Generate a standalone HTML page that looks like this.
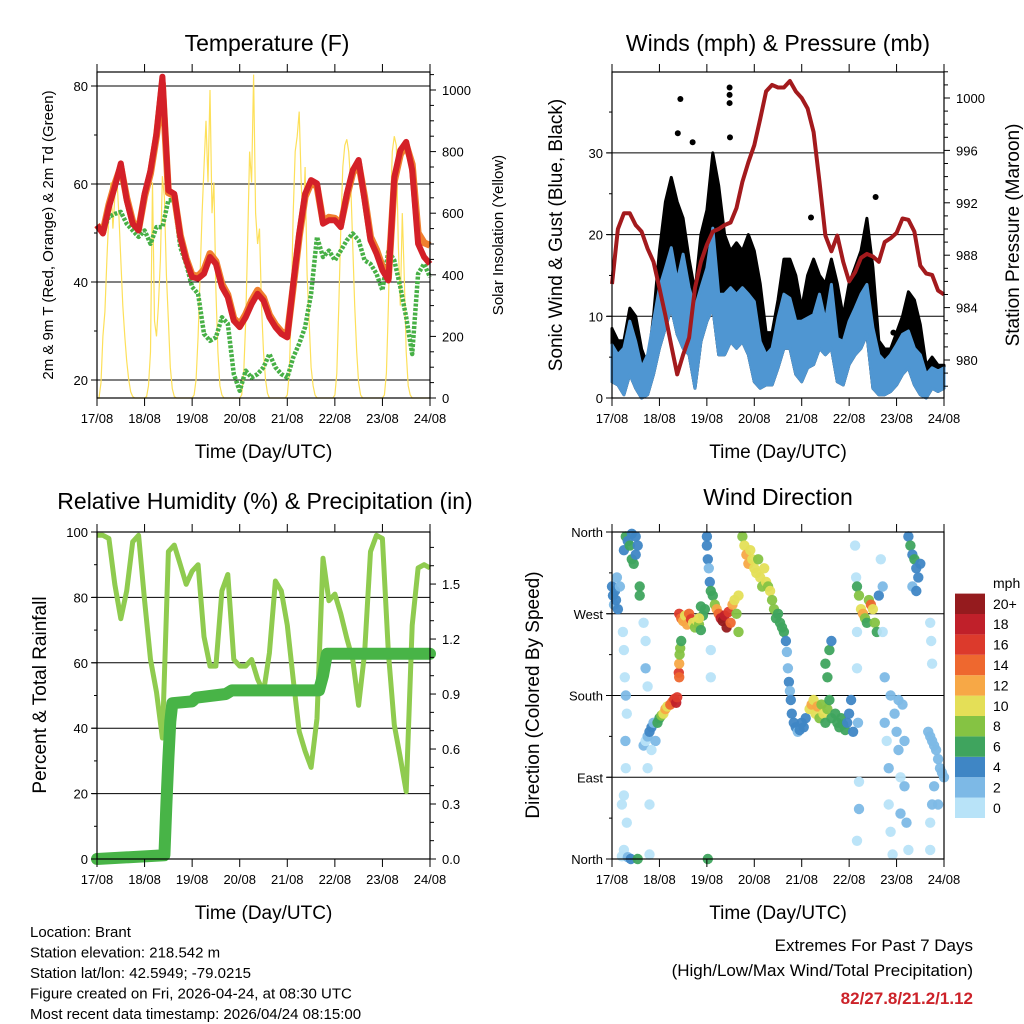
<!DOCTYPE html>
<html><head><meta charset="utf-8">
<style>
html,body{margin:0;padding:0;background:#fff;}
svg{display:block;font-family:"Liberation Sans",Arial,sans-serif;}
</style></head>
<body>
<svg id="chart" width="1024" height="1024" viewBox="0 0 1024 1024" xmlns="http://www.w3.org/2000/svg"></svg>
<script>
// ---------- DATA ----------
const dayLabels = ["17/08","18/08","19/08","20/08","21/08","22/08","23/08","24/08"];
// 3-hourly series (hours 0..168 step 3)
const tempRed = [51.6,49.9,55.3,59.4,64.2,56.7,51.9,50.5,58,62.8,70.3,81.9,58.7,58,49.2,44.4,41,40.7,41.7,45.1,43.7,39,36.9,32.1,30.8,32.8,35.5,37.6,36.2,32.8,30.8,29.4,28.7,39.6,49.9,58,60.8,60.1,51.9,52.6,52.6,51.2,58,62.8,64.9,56.7,48.5,45.8,42.4,40.3,61.4,66.9,68.6,62.8,47.8,45.1,43.7];
const tempOrange = [51.6,50.2,55.8,60,63.5,57.2,52.3,50.8,57.5,62.2,69.8,80.5,58.2,57.6,49.5,44.8,41.4,41.2,42.5,45.8,44.2,39.6,37.4,32.6,31.3,33.4,36.2,38.3,36.8,33.3,31.3,29.9,29.2,39,49.2,57.4,60.2,59.5,52.4,53.2,53,51.8,57.4,62.2,64.2,57.4,49.2,46.6,43.1,40.8,60.5,66,68,64,50,48,47.5];
const dewGreen = [51.6,50.2,53.3,53.9,54.3,51.9,50.5,49.2,50.5,47.8,51.2,51.2,56.7,56.7,47.1,43.7,39,37.6,29.4,28,28.7,32.8,31.5,21.2,17.8,21.9,20.5,21.2,22.6,25.3,22.6,21.2,20.5,24.6,27.4,30.8,37.6,49.2,45.1,46.4,44.4,46.4,48.5,49.9,48.5,44.4,43.7,41.7,38.3,46.4,44.4,39,32.8,25.3,41.7,43.7,41];
// hourly solar insolation (W/m2), hours 0..168
const solar = [0,0,50,200,280,450,600,700,550,650,720,600,450,300,200,120,60,20,5,0,0,0,0,0,
0,5,40,150,700,250,200,300,450,720,650,400,250,100,30,5,0,0,0,0,0,0,0,0,
0,10,60,200,400,600,750,900,700,1000,600,700,350,150,40,10,0,0,0,0,0,0,0,0,
0,10,80,250,500,800,700,1050,600,500,550,300,150,60,15,0,0,0,0,0,0,0,0,0,
10,80,300,600,800,850,930,700,550,750,400,250,100,40,10,0,0,0,0,0,0,0,0,0,
10,80,300,550,750,820,840,800,700,500,300,150,50,10,0,0,0,0,0,0,0,0,0,0,
0,10,80,300,600,800,850,820,500,300,600,400,150,40,10,0,0,0,0,0,0,0,0,0,0];
const pressure = [985.8,990,991.2,991.2,990.3,989.8,988.5,987.5,985.5,983.4,981.1,978.9,980.4,981.7,985.5,987.5,988.8,989.8,990,990.3,990.5,991.6,993.6,995.1,996.4,998.4,1000.5,1001,1000.8,1000.8,1001.3,1000.5,1000,999.2,997.4,993.6,989.5,988.3,989.5,987.5,986,986.7,987.8,988.1,987.9,987.5,989,989.3,989.7,990.8,990.7,989.8,987.2,986.6,986.5,985.3,985];
const windHi = [6.5,5.3,6.1,9.4,6.9,3.7,5.3,9.4,13.5,15.9,18.4,14.3,17.6,13.5,11,13.5,15.9,20.8,12.7,12.7,13.5,12.7,13.5,12.7,11.8,6.9,5.3,6.1,9.8,12.7,12.2,9.4,9.4,9.8,10.2,12.7,9.4,13.9,7.3,6.9,9.4,11,12.7,13.9,8.6,5.3,4.5,5.3,6.5,7.8,8.2,6.1,5.3,2.9,3.7,3.3,3.7];
const windLo = [2,1.6,0.4,2.9,1.2,0,0.4,2.9,6.1,8.6,11,7.8,6.1,5.3,1.2,6.9,9.4,11,5.3,5.3,6.9,6.1,6.9,5.3,2,1.2,1.6,1.6,3.7,6.1,6.1,2.9,2,3.7,4.1,6.1,5.3,6.1,2,1.6,4.1,5.3,6.1,7.8,1.2,0.4,0.4,0.8,1.6,2.9,3.7,1.6,0.4,0,1.2,0.8,1.2];
const gustHi = [8.5,7,7,11,10,6,4,10,18,24,27,24,22,17,13,20,23,30,26,20,18,19,18,20,18,14,8,8,12,17,17,15,11,15,17,15,14,17,14,10,14,16,18,22,16,7,6,6,8,10,13,12,9,4,5,4,4];
const gustOutHour = [34.6,33.3,40.8,59.5,59.5,59.5,59.7,100.7,133.4,142.4];
const gustOutVal = [36.6,32.4,31.3,38,37.1,36.1,31.9,22.1,24.6,8];
const rh = [99,99,98,84,73.5,82,97,99,79,61,51,37,94,96,90,84,88,90,68,59,59,82,87,61,59,59,61,55,51,63,85,82,71.5,55,39,33,28,43,92,79,81,75,67.5,61,47,63,94,99,98,63,41,31,20.6,71.5,89,90,89];
const precipHour = [0,34,35,36,37,38,48,50,65,68,112,114,116,168];
const precipVal = [0,0.02,0.3,0.55,0.75,0.85,0.86,0.88,0.9,0.92,0.92,1.0,1.12,1.12];
// wind direction scatter
const dirHour = [0,0.5,1,1.5,2,3,4,2.5, 6,7,8,9,10,11,12,13,14,14,10,12,
5.5,6,6.5,7,7.5,6.8,7,6,5,7.5,6,5,8,9.5,13, 16,17,17,18,18,19,19,
16,17,18,19,20,21,22,20, 23,24,25,26,27,28, 29.5,30.5,31.5,32.5,33,33.8,34,34,34.2,34.5,35,
34,35,36,37,38,39,40,41,42,43,44,45,46,47,45,44, 48,48,48.5,49,49.5,50,48.5,50,50,
51,52,53,54,55,56,57,58,59,60,61,62,63,64,64, 66,67,68,69,70, 71,72,73,74,75,76,77,78,79,80,
81,82,83,84,85,86,87, 88,88.5,89,89.5,90,90.5,91,92,93,94,95,96,97,98,
100,101,102,103,104,105,106,107,108,109,110,111,108,109,110,111,
113,114,115,116,117,118,119,120,121,122, 123,123.5,124,124,124.5,125,125,124,
124,125,126,127,128,129,130,131,132,133,134,135,
136,137,137,138,138,139,140,140,141,142,143,144,145,146,146,147,148,148,149,150,141,145,
150,151,152,153,154,155,156,152,154, 160,161,162,163,164,165,166,167,168,163,165, 161,161.5,162,161,161,162];
const dirDeg = [300,290,280,295,285,275,300,310, 340,355,350,345,330,325,335,345,300,290,358,355,
250,230,200,180,160,130,100,70,60,40,10,3,2,0,0, 260,240,210,190,100,60,5,
125,130,135,140,145,150,130,120, 150,155,158,160,165,168, 170,173,176,172,178,205,200,215,225,232,240,
270,265,262,268,258,270,264,260,255,262,258,252,268,275,278,265, 355,345,330,320,305,295,0,230,200,
290,280,275,270,265,262,268,255,272,260,280,285,270,250,290, 355,345,335,325,340, 330,320,315,330,310,300,320,305,300,295,
285,275,265,270,260,255,250, 240,228,210,195,185,175,160,150,145,140,142,150,145,155,
165,170,175,160,168,155,170,160,150,165,175,155,215,200,230,240,
160,150,145,155,148,142,150,160,175,140, 345,310,250,210,150,85,55,20,
300,290,275,270,265,260,285,280,275,260,250,290,
330,300,250,200,150,130,100,60,30,5,160,140,120,90,50,170,130,80,40,10,180,175,
355,345,335,330,320,310,325,300,295, 140,135,130,125,120,110,100,95,90,80,60, 260,240,215,40,10,60];
const dirSpd = [4,4,3,4,5,4,3,2, 4,6,5,6,7,6,4,5,6,6,4,5,
1,0,1,2,1,2,1,0,0,1,1,0,3,5,6, 1,1,2,1,1,0,0,
2,1,3,4,4,3,2,1, 6,7,8,10,12,10, 14,15,16,18,17,16,15,13,9,8,7,
16,14,12,10,12,15,16,11,9,10,8,7,7,6,7,11, 5,4,4,3,4,6,6,1,1,
7,8,12,14,18,20,18,20,16,14,12,10,9,8,10, 8,11,12,12,10, 11,10,10,9,10,9,10,10,9,10,
9,8,7,7,6,7,7, 4,3,2,4,3,4,4,4,4,3,4,4,5,4,
10,12,11,10,12,9,8,10,7,8,6,6,6,7,6,5,
6,7,6,7,6,6,4,4,4,4, 1,0,1,0,2,1,2,0,
7,8,10,12,9,7,9,14,10,8,7,5,
1,3,1,2,3,1,2,1,1,1,2,3,2,1,2,3,3,2,3,1,3,3,
5,6,4,6,5,4,4,3,5, 2,2,2,3,2,3,2,3,2,2,3, 1,1,1,1,1,2];
const speedBins = ["0","2","4","6","8","10","12","14","16","18","20+"];
const binColors = ["#b8e3f8","#7db9e6","#3f86c5","#3fa45e","#85c343","#e4df57","#f7a846","#ee682f","#dc3a2c","#c0202a","#951b1e"];

// ---------- HELPERS ----------
const svg = document.getElementById('chart');
const NS = "http://www.w3.org/2000/svg";
function mk(tag, attrs, parent){
  const e = document.createElementNS(NS, tag);
  for (const k in attrs) e.setAttribute(k, attrs[k]);
  (parent||svg).appendChild(e);
  return e;
}
function txt(s, x, y, size, anchor, parent, extra){
  const t = mk('text', Object.assign({x:x, y:y, 'font-size':size, 'text-anchor':anchor||'start', fill:'#000'}, extra||{}), parent);
  t.textContent = s;
  return t;
}
function hours3(n){ const a=[]; for(let i=0;i<n;i++) a.push(i*3); return a; }

const P1={x0:97,x1:430,y0:72,y1:398}, P2={x0:612,x1:944,y0:72,y1:398}, P3={x0:97,x1:430,y0:532,y1:859}, P4={x0:612,x1:944,y0:532,y1:859};
function xs(P){ return h => P.x0 + h*(P.x1-P.x0)/168; }

function frame(P, name){
  const g = mk('g', {});
  
  
  mk('rect', {x:P.x0, y:P.y0, width:P.x1-P.x0, height:P.y1-P.y0, fill:'none', stroke:'#000', 'stroke-width':1.2}, g);
  const X = xs(P);
  const xa = mk('g', {}, svg);
  
  
  for (let d=0; d<=7; d++){
    const x = X(d*24);
    mk('line', {x1:x, x2:x, y1:P.y0, y2:P.y0-8, stroke:'#000'}, xa);
    mk('line', {x1:x, x2:x, y1:P.y1, y2:P.y1+8, stroke:'#000'}, xa);
    const t = txt(dayLabels[d], x, P.y1+25, 13, 'middle', xa);
    
    
  }
  const tt = txt('Time (Day/UTC)', (P.x0+P.x1)/2, P.y1+60, 19, 'middle', xa);
  
  
}
function grid(P, ys){
  ys.forEach(y => mk('line', {x1:P.x0-5, x2:P.x1, y1:y, y2:y, stroke:'#000', 'stroke-width':1}));
}
function leftTicks(P, vals, yf, labels, minors){
  vals.forEach((v,i) => {
    const y = yf(v);
    mk('line', {x1:P.x0-6, x2:P.x0, y1:y, y2:y, stroke:'#000'});
    const t = txt(labels[i], P.x0-9, y+5, 13, 'end');
    
    
  });
  (minors||[]).forEach(v => { const y=yf(v); mk('line', {x1:P.x0-3, x2:P.x0, y1:y, y2:y, stroke:'#000'}); });
}
function rightTicks(P, vals, yf, labels, minors){
  vals.forEach((v,i) => {
    const y = yf(v);
    mk('line', {x1:P.x1, x2:P.x1+6, y1:y, y2:y, stroke:'#000'});
    const t = txt(labels[i], P.x1+12, y+5, 13, 'start');
    
    
  });
  (minors||[]).forEach(v => { const y=yf(v); mk('line', {x1:P.x1, x2:P.x1+4, y1:y, y2:y, stroke:'#000'}); });
}
function pathFrom(xArr, yArr, X, Y){
  return xArr.map((h,i) => (i?'L':'M') + X(h).toFixed(1) + ',' + Y(yArr[i]).toFixed(1)).join(' ');
}
function vtitle(s, x, y, size, name){
  const t = txt(s, 0, 0, size, 'middle');
  t.setAttribute('transform', 'translate('+x+','+y+') rotate(-90)');
  
  
}
function title(s, x, y, name){
  const t = txt(s, x, y, 23, 'middle');
  
  
}

// ---------- PANEL 1 ----------
(function(){
  const P=P1, X=xs(P);
  const Y = v => 380 - (v-20)*4.9;
  const S = v => 398 - v*0.308;
  title('Temperature (F)', 267, 51, 'temperature-title');
  grid(P, [20,40,60,80].map(Y));
  const hs = hours3(tempRed.length);
  const sh = solar.map((v,i)=>i);
  const ps = mk('path', {d:pathFrom(sh, solar, X, S), fill:'none', stroke:'#fde05a', 'stroke-width':1.2});
  
  
  const pd = mk('path', {d:pathFrom(hs, dewGreen, X, Y), fill:'none', stroke:'#47b046', 'stroke-width':4.5, 'stroke-dasharray':'3 1.5', 'stroke-linejoin':'round'});
  
  
  const po = mk('path', {d:pathFrom(hs, tempOrange, X, Y), fill:'none', stroke:'#f07f2e', 'stroke-width':7, 'stroke-linejoin':'round'});
  
  
  const pr = mk('path', {d:pathFrom(hs, tempRed, X, Y), fill:'none', stroke:'#d42028', 'stroke-width':6, 'stroke-linejoin':'round'});
  
  
  frame(P, 'temperature');
  leftTicks(P, [20,40,60,80], Y, ['20','40','60','80'], [30,50,70]);
  const sv=[0,200,400,600,800,1000], mn=[];
  for(let v=50; v<=1050; v+=50) if(v%200) mn.push(v);
  rightTicks(P, sv, S, sv.map(String), mn);
  vtitle('2m & 9m T (Red, Orange) & 2m Td (Green)', 53, 235, 15, 'temperature-y-title');
  vtitle('Solar Insolation (Yellow)', 503, 235, 15, 'solar-y-title');
})();

// ---------- PANEL 2 ----------
(function(){
  const P=P2, X=xs(P);
  const W = v => 398 - v*8.17;
  const Pr = v => 360 - (v-980)*13.1;
  title('Winds (mph) & Pressure (mb)', 778, 51, 'winds-title');
  grid(P, [10,20,30].map(W));
  const hs = hours3(windHi.length);
  let d = 'M'+X(hs[0])+','+W(gustHi[0]);
  hs.forEach((h,i)=>{ d += ' L'+X(h).toFixed(1)+','+W(gustHi[i]).toFixed(1); });
  for(let i=hs.length-1;i>=0;i--) d += ' L'+X(hs[i]).toFixed(1)+','+W(windLo[i]).toFixed(1);
  const g1 = mk('path', {d:d+'Z', fill:'#000', stroke:'#000', 'stroke-width':3, 'stroke-linejoin':'round'});
  
  
  gustOutHour.forEach((h,i)=>{
    const c = mk('circle', {cx:X(h), cy:W(gustOutVal[i]), r:3, fill:'#000'});
    
    
  });
  let b = '';
  hs.forEach((h,i)=>{ b += (i?' L':'M')+X(h).toFixed(1)+','+W(windHi[i]).toFixed(1); });
  for(let i=hs.length-1;i>=0;i--) b += ' L'+X(hs[i]).toFixed(1)+','+W(windLo[i]).toFixed(1);
  const bw = mk('path', {d:b+'Z', fill:'#4f96d2', stroke:'#4f96d2', 'stroke-width':3, 'stroke-linejoin':'round'});
  
  
  const pp = mk('path', {d:pathFrom(hs, pressure, X, Pr), fill:'none', stroke:'#a31a1d', 'stroke-width':4, 'stroke-linejoin':'round'});
  
  
  frame(P, 'winds');
  leftTicks(P, [0,10,20,30], W, ['0','10','20','30'], [5,15,25,35]);
  const pv=[980,984,988,992,996,1000], mn=[];
  for(let v=978; v<=1002; v++) if((v-980)%4) mn.push(v);
  rightTicks(P, pv, Pr, pv.map(String), mn);
  vtitle('Sonic Wind & Gust (Blue, Black)', 562, 235, 19, 'wind-y-title');
  vtitle('Station Pressure (Maroon)', 1019, 235, 19, 'pressure-y-title');
})();

// ---------- PANEL 3 ----------
(function(){
  const P=P3, X=xs(P);
  const R = v => 859 - v*3.27;
  const Q = v => 859 - v*183.3;
  title('Relative Humidity (%) & Precipitation (in)', 265, 509, 'humidity-title');
  grid(P, [20,40,60,80].map(R));
  const hs = hours3(rh.length);
  const pr = mk('path', {d:pathFrom(hs, rh, X, R), fill:'none', stroke:'#8fcb4f', 'stroke-width':5, 'stroke-linejoin':'round'});
  
  
  const pq = mk('path', {d:pathFrom(precipHour, precipVal, X, Q), fill:'none', stroke:'#48b447', 'stroke-width':12, 'stroke-linejoin':'round', 'stroke-linecap':'round'});
  
  
  frame(P, 'humidity');
  leftTicks(P, [0,20,40,60,80,100], R, ['0','20','40','60','80','100'], [10,30,50,70,90]);
  const qv=[0,0.3,0.6,0.9,1.2,1.5], mn=[];
  for(let v=0.1; v<1.75; v+=0.1){ if(Math.abs((v*10)%3)>0.01 && Math.abs((v*10)%3-3)>0.01) mn.push(v); }
  rightTicks(P, qv, Q, qv.map(v=>v.toFixed(1)), mn);
  vtitle('Percent & Total Rainfall', 46, 695, 19, 'humidity-y-title');
})();

// ---------- PANEL 4 ----------
(function(){
  const P=P4, X=xs(P);
  const D = v => 859 - v*327/360;
  title('Wind Direction', 778, 505, 'direction-title');
  grid(P, [90,180,270].map(D));
  const g = mk('g', {});
  
  
  dirHour.forEach((h,i)=>{
    const s = dirSpd[i];
    const bin = Math.min(10, Math.floor(s/2));
    const c = mk('circle', {cx:X(h).toFixed(1), cy:D(dirDeg[i]).toFixed(1), r:5.2, fill:binColors[bin], 'fill-opacity':0.95}, g);
    
    
  });
  frame(P, 'direction');
  const dv=[0,90,180,270,360], dl=['North','East','South','West','North'];
  leftTicks(P, dv, D, dl, [45,135,225,315]);
  vtitle('Direction (Colored By Speed)', 539, 695, 19, 'direction-y-title');
  const cb = mk('g', {});
  
  
  const mt = txt('mph', 993, 588, 14, 'start', cb);
  
  
  const bh = 20.4;
  speedBins.forEach((lab,i)=>{
    const y = 818 - (i+1)*bh;
    const r = mk('rect', {x:955, y:y, width:30, height:bh, fill:binColors[i]}, cb);
    
    
    const t = txt(lab, 993, y+bh/2+5, 14, 'start', cb);
    
    
  });
})();

// ---------- Footer ----------
(function(){
  const lines = ['Location: Brant','Station elevation: 218.542 m','Station lat/lon: 42.5949; -79.0215','Figure created on Fri, 2026-04-24, at 08:30 UTC','Most recent data timestamp: 2026/04/24 08:15:00'];
  lines.forEach((s,i)=>{
    const t = txt(s, 30, 937+i*20.5, 15, 'start');
    
    
  });
  const a = txt('Extremes For Past 7 Days', 973, 951, 17, 'end');
  
  
  const b = txt('(High/Low/Max Wind/Total Precipitation)', 973, 976, 17, 'end');
  
  
  const c = txt('82/27.8/21.2/1.12', 973, 1004, 17, 'end', svg, {'font-weight':'bold', fill:'#cc2229'});
  
  
})();
</script>
</body></html>
